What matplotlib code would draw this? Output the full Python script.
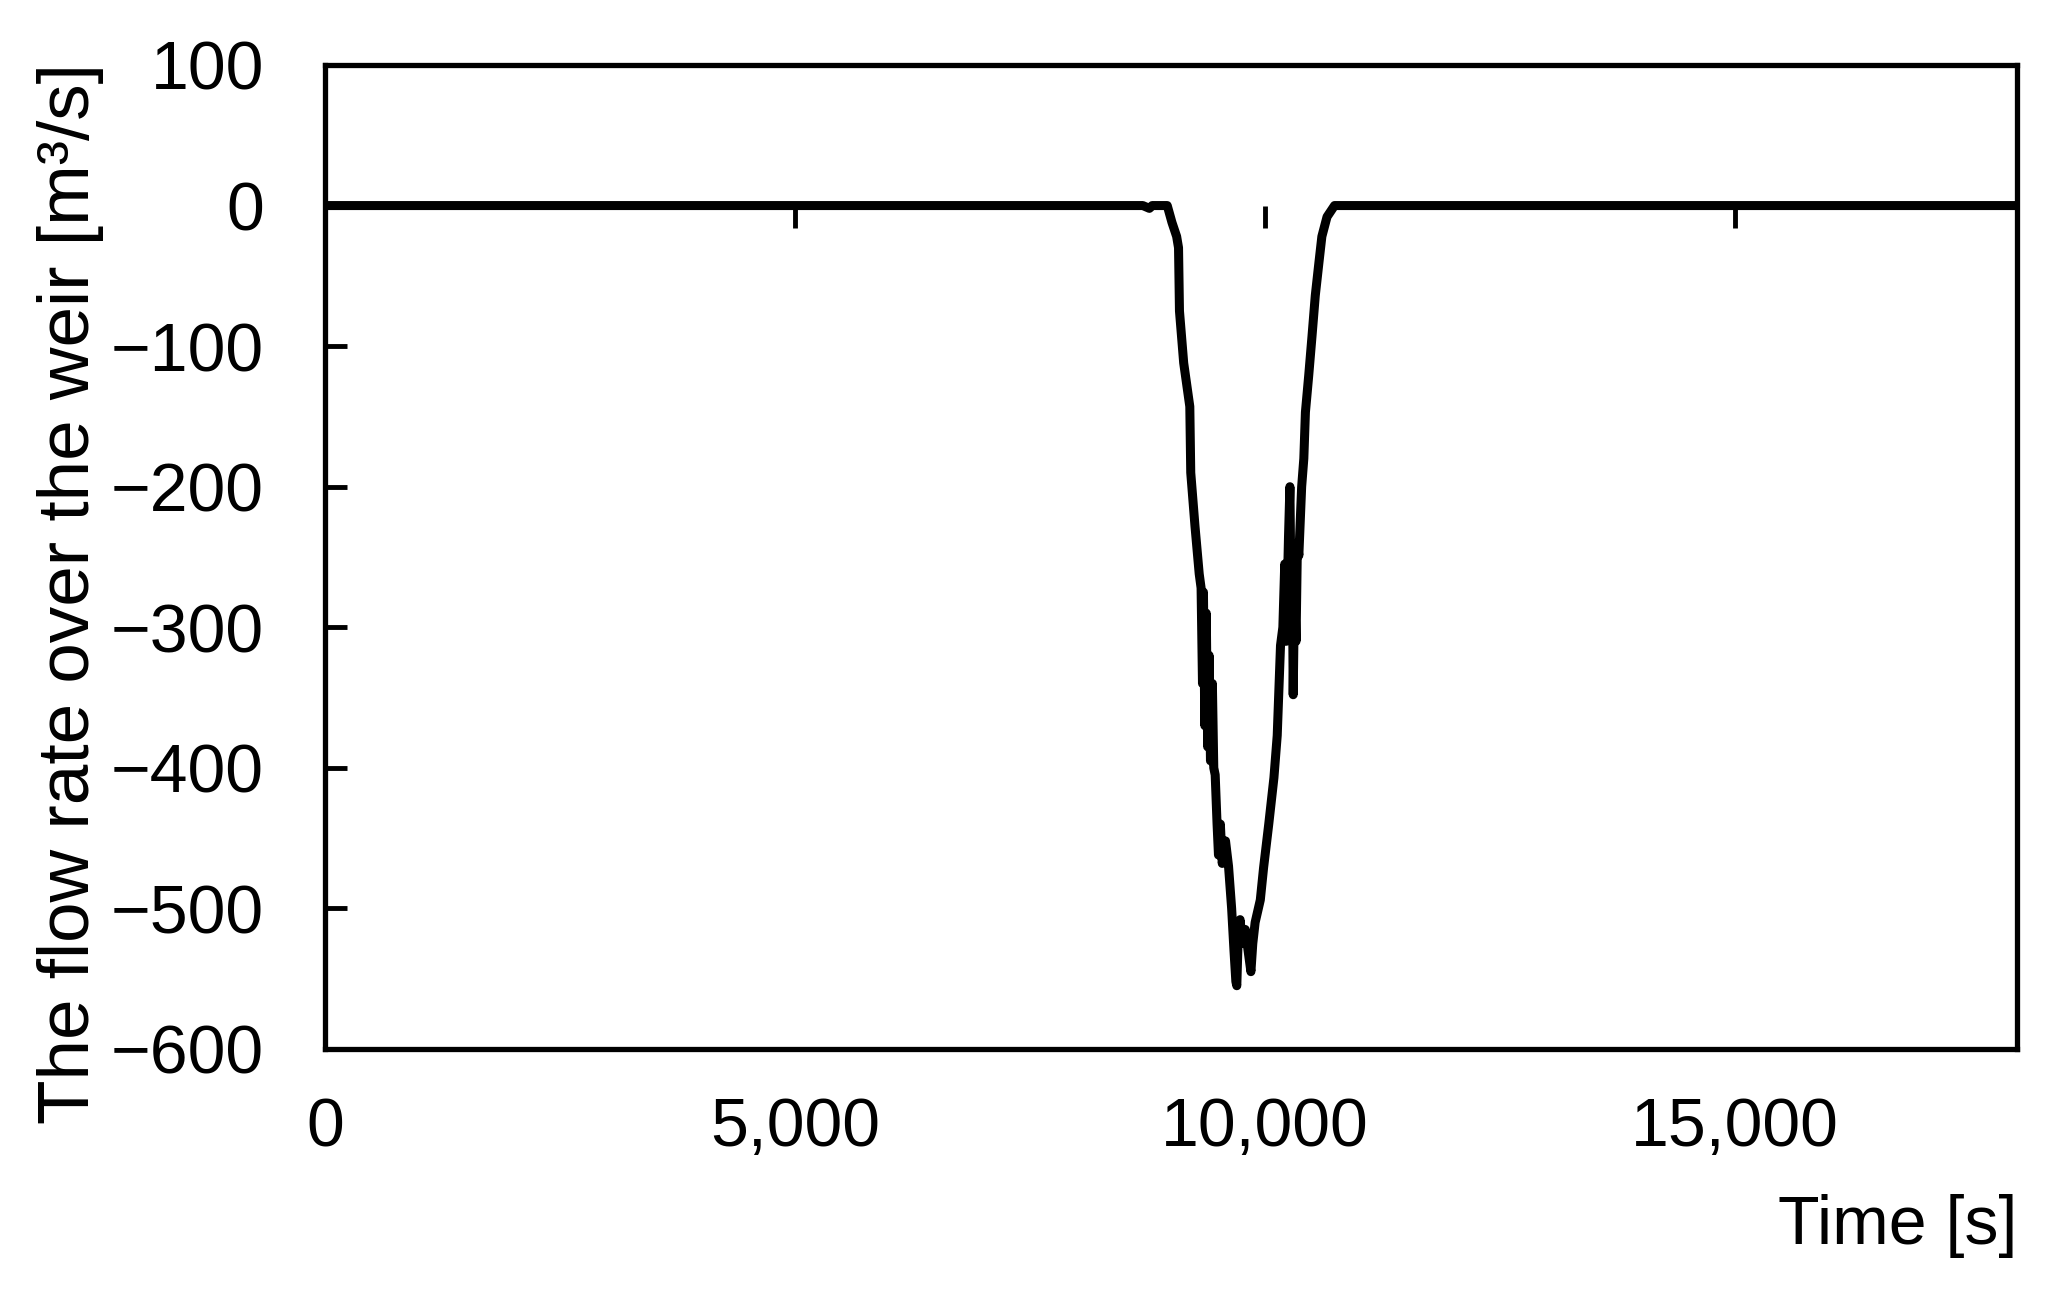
import numpy as np
import matplotlib
matplotlib.use('Agg')
import matplotlib.pyplot as plt
from matplotlib.ticker import FuncFormatter

plt.rcParams['font.family'] = ['Liberation Sans', 'DejaVu Sans']

# --- data
time_s = [0, 8700, 8770, 8800, 8960, 9010, 9060, 9080, 9090, 9135, 9200, 9210,
          9255, 9300, 9320, 9335, 9345, 9360, 9375, 9390, 9405, 9420, 9440,
          9455, 9470, 9490, 9505, 9525, 9545, 9580, 9612, 9645, 9670, 9690,
          9700, 9715, 9735, 9760, 9790, 9820, 9850, 9870, 9895, 9950, 9985,
          10040, 10095, 10130, 10165, 10190, 10210, 10225, 10250, 10265, 10280,
          10290, 10300, 10315, 10330, 10345, 10360, 10390, 10413, 10430, 10465,
          10500, 10535, 10573, 10605, 10660, 10740, 18000]
flow = [0, 0, -2, 0, 0, -12, -22, -30, -75, -112, -143, -190,
        -228, -262, -272, -340, -275, -370, -290, -385, -320, -395, -340,
        -400, -405, -440, -462, -440, -468, -452, -470, -500, -530, -552,
        -555, -520, -508, -525, -515, -530, -545, -525, -510, -494, -471,
        -440, -407, -377, -313, -300, -255, -310, -236, -200, -300,
        -250, -348, -270, -310, -240, -249, -200, -180, -147, -121,
        -93, -64, -41, -22, -8, 0, 0]

x_ticks = [0, 5000, 10000, 15000]
y_ticks = [100, 0, -100, -200, -300, -400, -500, -600]

fig = plt.figure(figsize=(20.6, 12.92), dpi=100)
ax = fig.add_axes([0.1578, 0.1881, 0.9791 - 0.1578, 0.9497 - 0.1881])

ax.plot(time_s, flow, color='black', lw=6.5, solid_joinstyle='round',
        solid_capstyle='butt', zorder=3)

ax.set_xlim(0, 18000)
ax.set_ylim(-600, 100)
ax.set_xticks(x_ticks)
ax.set_yticks(y_ticks)
ax.xaxis.set_major_formatter(FuncFormatter(lambda v, p: '{:,.0f}'.format(v)))

for s in ax.spines.values():
    s.set_linewidth(3.8)

ax.tick_params(axis='y', direction='in', length=16, width=3.5, pad=44, labelsize=49)
ax.tick_params(axis='x', length=0, pad=34, labelsize=49)

# x tick marks hang down from the zero line
ax.plot(x_ticks[1:], [0] * len(x_ticks[1:]), linestyle='none', color='black',
        marker=[(0, 0), (0, -1)], markersize=32, markeredgewidth=3.5, zorder=2)

ax.set_xlabel('Time [s]', fontsize=49, loc='right', labelpad=24)
fig.text(0.034, 0.541, 'The flow rate over the weir [m\u00b3/s]', fontsize=52.5,
         rotation=90, ha='center', va='center')

plt.savefig('out.png', dpi=100)
plt.close()
